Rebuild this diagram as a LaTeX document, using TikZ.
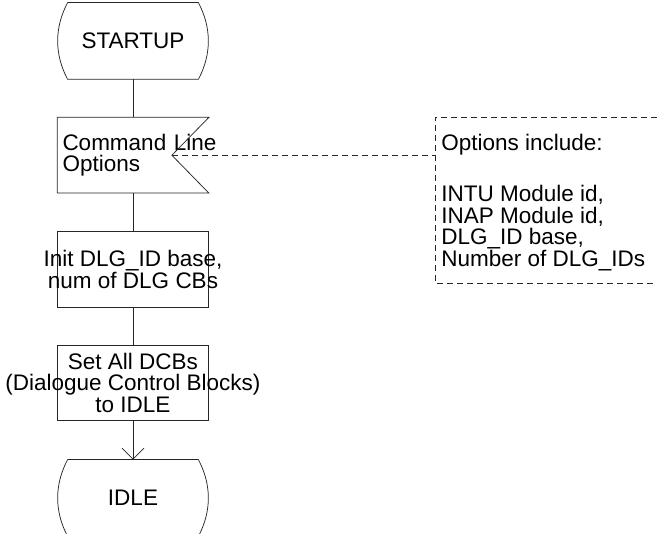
\documentclass[tikz,border=0pt]{standalone}
\usepackage{fontspec}
\setmainfont{Liberation Sans}
\usetikzlibrary{positioning,arrows.meta}

\tikzset{
  term/.style={minimum width=130pt, minimum height=76pt, inner sep=0pt},
  inbox/.style={minimum width=151pt, minimum height=75pt, inner sep=0pt,
    text width=141pt, align=left},
  proc/.style={draw, minimum width=151pt, minimum height=75pt, inner sep=0pt},
  txt/.style={align=center, inner sep=0pt},
  note/.style={align=left, inner sep=0pt},
  cmt/.style={dash pattern=on 6pt off 4pt},
  flow/.style={-{Straight Barb[length=11pt,width=22pt]}}
}

% rounded-side start/state symbol
\newcommand{\termoutline}[1]{%
  \draw (#1.north west) -- (#1.north east)
    .. controls +(13.3,-25) and +(13.3,25) .. (#1.south east)
    -- (#1.south west)
    .. controls +(-13.3,25) and +(-13.3,-25) .. (#1.north west);}

\begin{document}
\begin{tikzpicture}[x=1pt, y=1pt, line width=0.75pt, draw=black!85,
  font=\fontsize{22.5}{21.5}\selectfont]
  \useasboundingbox (0,0) rectangle (657,534);

  \node[term]                        (startup) at (133,493) {STARTUP};
  \node[inbox, below=38pt of startup] (cmdline) {Command~Line\\Options};
  \coordinate (notch) at ([xshift=-37pt]cmdline.east);
  \node[proc, minimum height=76pt, below=38pt of cmdline] (init) {};
  \node[txt] (initlbl) at (init) {Init DLG\_ID base,\\num of DLG CBs};
  \node[proc, below=37pt of init]     (setall) {};
  \node[txt] (setlbl) at (setall) {Set All DCBs\\(Dialogue Control Blocks)\\to IDLE};
  \node[term, below=39pt of setall]   (idle) {IDLE};

  \termoutline{startup}
  \termoutline{idle}
  \draw (cmdline.north west) -- (cmdline.north east) -- (notch)
    -- (cmdline.south east) -- (cmdline.south west) -- cycle;

  \draw (startup) -- (cmdline);
  \draw (cmdline) -- (init);
  \draw (init) -- (setall);
  \draw[flow] (setall) -- (idle);

  % comment bracket
  \coordinate (ctop) at (435,417);
  \coordinate (cbot) at (435,251);
  \draw[cmt] (657,417) -- (ctop) -- (cbot) -- (657,251);
  \draw[cmt] (notch) -- (notch -| ctop);
  \node[note, anchor=north west] (opts) at (441,400) {Options include:\\[29.5pt]
    INTU Module id,\\INAP Module id,\\DLG\_ID base,\\Number of DLG\_IDs};
\end{tikzpicture}
\end{document}
